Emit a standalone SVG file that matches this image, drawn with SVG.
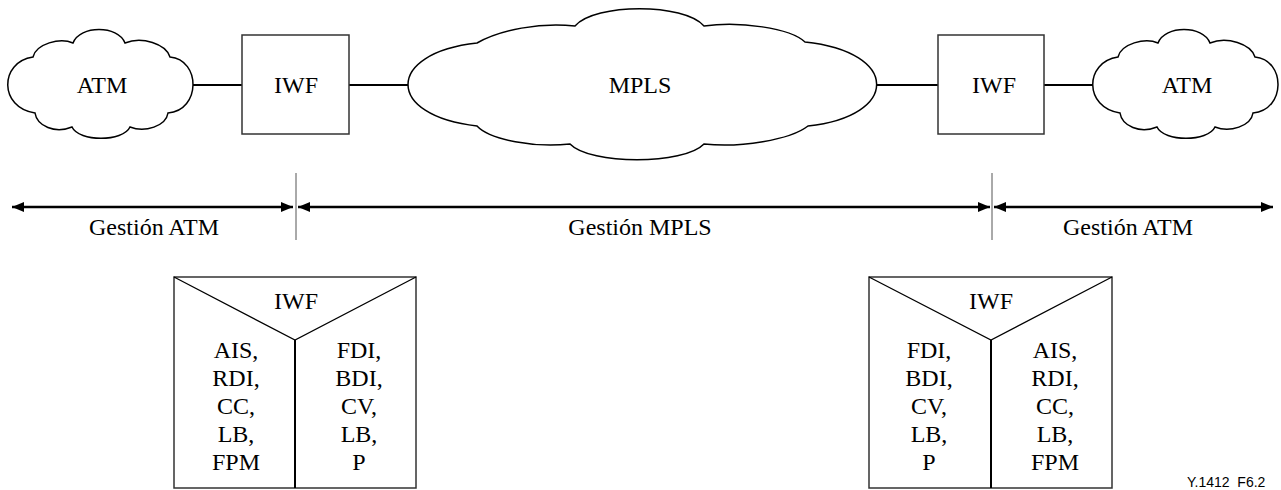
<svg xmlns="http://www.w3.org/2000/svg" width="1281" height="490" viewBox="0 0 1281 490">
<style>
text{font-family:"Liberation Serif","Times New Roman",serif;font-size:24px;fill:#000;text-anchor:middle}
.cloud{fill:#fff;stroke:#000;stroke-width:1.5}
.box{fill:#fff;stroke:#333;stroke-width:1.5}
.conn{stroke:#000;stroke-width:2.2;fill:none}
.arr{stroke:#000;stroke-width:2.5;fill:none;marker-start:url(#ah);marker-end:url(#ah)}
.sep{stroke:#555;stroke-width:1}
text.tag{font-family:"Liberation Sans",Arial,sans-serif;font-size:14px;text-anchor:start}
</style>
<defs>
<marker id="ah" viewBox="0 0 12 10" refX="12" refY="5" markerWidth="12" markerHeight="10" markerUnits="userSpaceOnUse" orient="auto-start-reverse">
<path d="M0,0 L12,5 L0,10 Z" fill="#000"/>
</marker>
<path id="atmcloud" d="M33,57 C36,44 60,37 73,43 C80,25 118,25 125,43 C142,36 166,44 170,57 C201,60 201,110 168,113 C166,126 145,133 130,127 C123,142 79,142 72,127 C55,134 37,126 35,113 C-1,108 -1,62 33,57 Z"/>
</defs>
<g id="connectors">
<line class="conn" x1="193" y1="85" x2="242" y2="85"/>
<line class="conn" x1="349" y1="85" x2="409" y2="85"/>
<line class="conn" x1="876" y1="85" x2="938" y2="85"/>
<line class="conn" x1="1044" y1="85" x2="1093" y2="85"/>
<line class="arr" x1="12" y1="207" x2="293" y2="207"/>
<line class="arr" x1="298" y1="207" x2="990" y2="207"/>
<line class="arr" x1="994" y1="207" x2="1273" y2="207"/>
<line class="sep" x1="296" y1="173" x2="296" y2="240"/>
<line class="sep" x1="992" y1="173" x2="992" y2="240"/>
</g>
<g id="atm-left">
<use href="#atmcloud" class="cloud"/>
<text x="102" y="93">ATM</text>
</g>
<g id="iwf-left">
<rect class="box" x="242" y="35" width="107" height="99"/>
<text x="296" y="93">IWF</text>
</g>
<g id="mpls">
<path class="cloud" d="M477,43 C500,30 540,22 575,26 C595,3 684,3 704,26 C740,21 790,28 805,42 C900,52 900,116 808,126 C790,140 740,148 704,144 C684,165 590,165 570,144 C535,148 490,140 477,126 C385,116 385,53 477,43 Z"/>
<text x="640" y="93">MPLS</text>
</g>
<g id="iwf-right">
<rect class="box" x="938" y="35" width="106" height="99"/>
<text x="994" y="93">IWF</text>
</g>
<g id="atm-right">
<use href="#atmcloud" class="cloud" transform="translate(1085,0)"/>
<text x="1187" y="93">ATM</text>
</g>
<g id="labels">
<text x="154" y="235">Gestión ATM</text>
<text x="640" y="235">Gestión MPLS</text>
<text x="1128" y="235">Gestión ATM</text>
</g>
<g id="iwf-detail-left">
<rect class="box" x="174" y="277" width="242" height="211"/>
<polyline points="174,277 295,340 416,277" fill="none" stroke="#000" stroke-width="1.3"/>
<line x1="295" y1="340" x2="295" y2="488" stroke="#000" stroke-width="2"/>
<text x="296" y="309">IWF</text>
<text x="236"><tspan x="236" y="358">AIS,</tspan><tspan x="236" y="386">RDI,</tspan><tspan x="236" y="414">CC,</tspan><tspan x="236" y="442">LB,</tspan><tspan x="236" y="470">FPM</tspan></text>
<text x="359"><tspan x="359" y="358">FDI,</tspan><tspan x="359" y="386">BDI,</tspan><tspan x="359" y="414">CV,</tspan><tspan x="359" y="442">LB,</tspan><tspan x="359" y="470">P</tspan></text>
</g>
<g id="iwf-detail-right">
<rect class="box" x="869" y="277" width="243" height="211"/>
<polyline points="869,277 991,340 1112,277" fill="none" stroke="#000" stroke-width="1.3"/>
<line x1="991" y1="340" x2="991" y2="488" stroke="#000" stroke-width="2"/>
<text x="991" y="309">IWF</text>
<text x="929"><tspan x="929" y="358">FDI,</tspan><tspan x="929" y="386">BDI,</tspan><tspan x="929" y="414">CV,</tspan><tspan x="929" y="442">LB,</tspan><tspan x="929" y="470">P</tspan></text>
<text x="1055"><tspan x="1055" y="358">AIS,</tspan><tspan x="1055" y="386">RDI,</tspan><tspan x="1055" y="414">CC,</tspan><tspan x="1055" y="442">LB,</tspan><tspan x="1055" y="470">FPM</tspan></text>
</g>
<text class="tag" x="1187" y="487" xml:space="preserve">Y.1412  F6.2</text>
</svg>
